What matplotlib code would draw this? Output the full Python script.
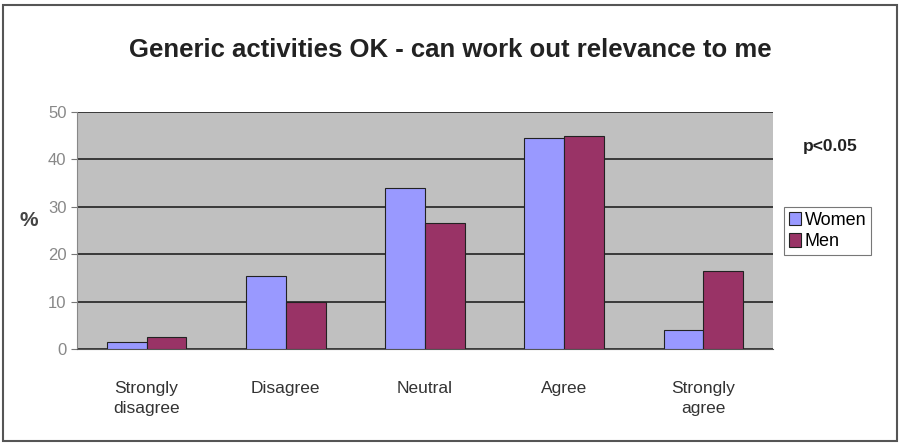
import numpy as np
import matplotlib.pyplot as plt
from matplotlib.patches import Rectangle

plt.rcParams['font.family'] = ['Liberation Sans', 'DejaVu Sans']

categories = ['Strongly\ndisagree', 'Disagree', 'Neutral', 'Agree', 'Strongly\nagree']
women = [1.5, 15.5, 34, 44.5, 4]
men = [2.5, 10, 26.5, 45, 16.5]
yticks = [0, 10, 20, 30, 40, 50]

fig = plt.figure(figsize=(9.02, 4.44), dpi=100)
ax = fig.add_axes([77/902, 1 - 349/444, (773-77)/902, (349-112)/444])

x = np.arange(len(categories))
w = 1 / 3.5
ax.bar(x - w/2, women, w, color='#9999FF', edgecolor='#222222', linewidth=0.8, label='Women', zorder=3)
ax.bar(x + w/2, men, w, color='#993366', edgecolor='#222222', linewidth=0.8, label='Men', zorder=3)

ax.set_facecolor('#C0C0C0')
ax.set_xlim(-0.5, len(categories) - 0.5)
ax.set_ylim(0, 50)
ax.set_yticks(yticks)
ax.yaxis.grid(True, color='#222222', linewidth=1.2, zorder=1)
ax.set_xticks(x)
ax.set_xticklabels(categories, fontsize=12.5, color='#333333', linespacing=1.45)
ax.tick_params(axis='y', labelsize=12, labelcolor='#888888', color='#777777', length=4)
ax.tick_params(axis='x', length=0, pad=23)
for s in ['top', 'right']:
    ax.spines[s].set_visible(False)
ax.spines['left'].set_color('#888888')
ax.spines['bottom'].set_color('#555555')
ax.set_ylabel('%', fontsize=15, fontweight='bold', rotation=0, color='#444444', labelpad=14)

fig.text(450/902, 1 - 50/444, 'Generic activities OK - can work out relevance to me',
         ha='center', va='center', fontsize=18.5, fontweight='bold', color='#222222')
fig.text(830/902, 1 - 146/444, 'p<0.05', ha='center', va='center',
         fontsize=12.5, fontweight='bold', color='#222222')

leg = ax.legend(loc='center left', bbox_to_anchor=(784/902, 1 - 231/444),
                bbox_transform=fig.transFigure, fontsize=13, frameon=True,
                fancybox=False, edgecolor='#555555', handlelength=0.7,
                handleheight=0.8, handletextpad=0.2, borderpad=0.25,
                labelspacing=0.25, borderaxespad=0)
leg.get_frame().set_linewidth(0.8)

fig.patches.append(Rectangle((3/902, 3/444), 894/902, 436/444, transform=fig.transFigure,
                             fill=False, edgecolor='#555555', linewidth=1.5))

fig.savefig('out.png', dpi=100)
